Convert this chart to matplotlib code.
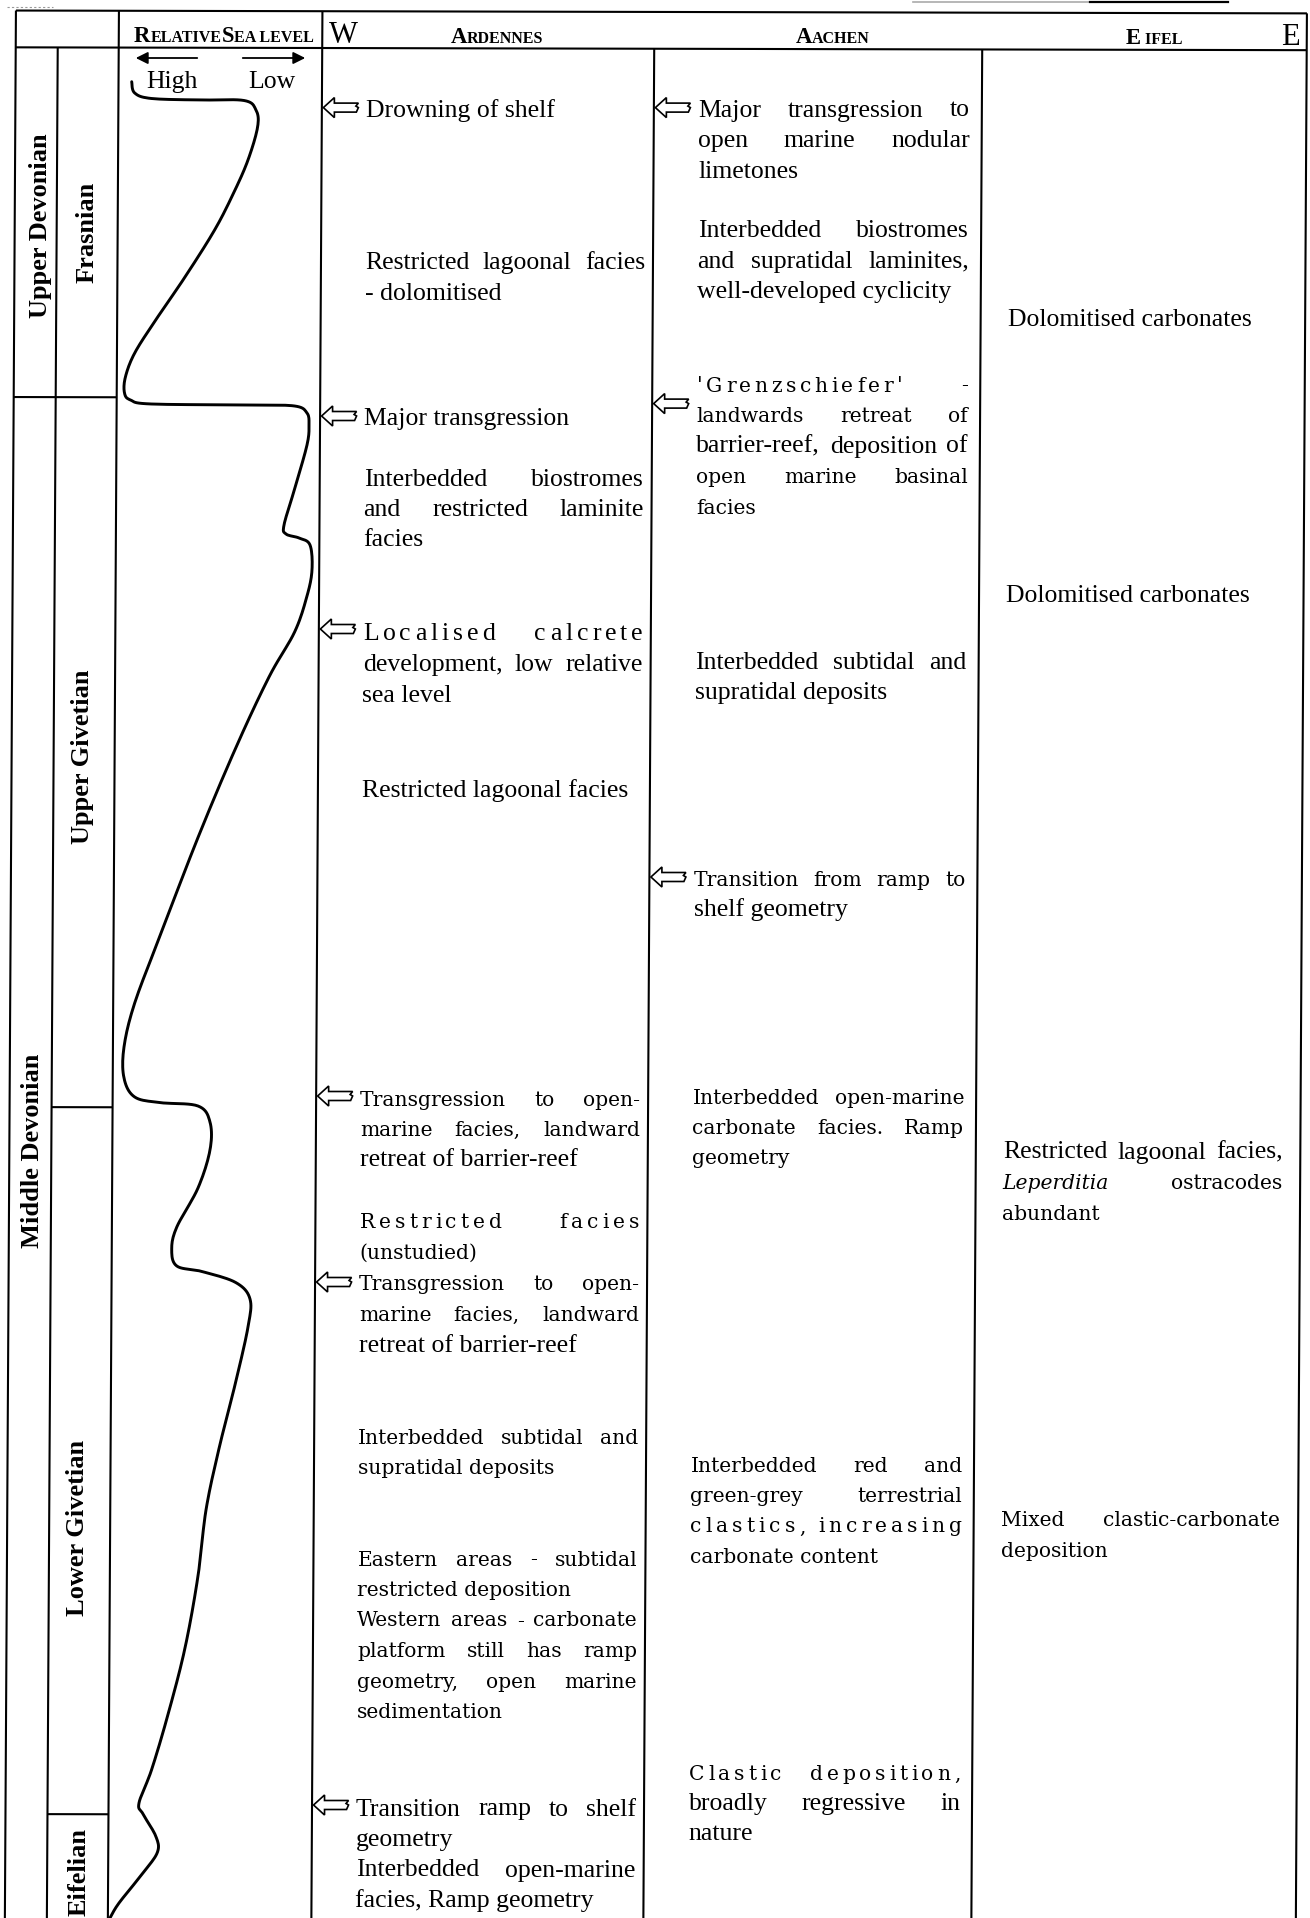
import numpy as np
import matplotlib
matplotlib.use("Agg")
import matplotlib.pyplot as plt
from matplotlib.font_manager import FontProperties
from matplotlib.patches import Polygon

W, H = 1310, 1918

# ---- relative sea-level curve (picture px: x left = high, y = depth) ----
sea_level_x = [131.7, 134.7, 151.5, 200, 244, 256, 257.6, 248, 233.6, 214.6, 185, 155.7,
               134.7, 125.4, 124.5, 130.5, 151.5, 250, 294.6, 307, 309, 307, 294.6, 284,
               286, 299, 310, 312, 307, 294.6, 269, 235.7, 198, 160, 134.7, 124, 124,
               134.7, 160, 198, 210, 210, 198, 176.8, 171.7, 176.8, 202, 235.7, 250, 248,
               235.7, 218.9, 206, 198, 185, 168, 151.5, 139, 143, 155.7, 157.5, 143, 119, 110]
sea_level_y = [81.7, 93, 98.5, 100, 100.5, 110, 127, 160, 193, 230, 277, 320, 353, 377,
               393, 400, 404, 405, 406, 413, 425, 445, 489, 525, 534, 538, 545, 570, 596,
               632, 677, 748, 837.5, 936, 1003, 1047, 1078, 1097, 1102.6, 1106, 1122, 1150,
               1188, 1227, 1249, 1266, 1271.5, 1282.5, 1299, 1327, 1382, 1449, 1510, 1576,
               1648, 1714.5, 1770, 1803, 1814, 1836, 1852, 1873, 1903, 1918]

# ---- stratigraphy labels (text, centre x, centre y) ----
series_labels = [("Upper Devonian", 41, 226), ("Middle Devonian", 33, 1151)]
stage_labels = [("Frasnian", 87, 232), ("Upper Givetian", 82, 757),
                ("Lower Givetian", 78, 1528), ("Eifelian", 79, 1872)]
stage_bounds = [1107, 1814]
series_bound = 397

# ---- column texts: (first line y, arrow y or None, lines) ----
# line = (text, face, mode, letter spacing) ; face t=times w=wide ; mode j=justify l=left
ardennes_blocks = [
    (108, 107.6, [("Drowning of shelf", "t", "l", 0)]),
    (260.5, None, [("Restricted lagoonal facies", "t", "j", 0), ("- dolomitised", "t", "l", 0)]),
    (416, 416, [("Major transgression", "t", "l", 0)]),
    (477, None, [("Interbedded biostromes", "t", "j", 0), ("and restricted laminite", "t", "j", 0),
                 ("facies", "t", "l", 0)]),
    (632, 629, [("Localised calcrete", "t", "j", 4), ("development, low relative", "t", "j", 0),
                ("sea level", "t", "l", 0)]),
    (788, None, [("Restricted lagoonal facies", "t", "l", 0)]),
    (1097, 1096, [("Transgression to open-", "w", "j", 0), ("marine facies, landward", "w", "j", 0),
                  ("retreat of barrier-reef", "t", "l", 0)]),
    (1219.5, None, [("Restricted facies", "w", "j", 4), ("(unstudied)", "w", "l", 0)]),
    (1282, 1282, [("Transgression to open-", "w", "j", 0), ("marine facies, landward", "w", "j", 0),
                  ("retreat of barrier-reef", "t", "l", 0)]),
    (1435, None, [("Interbedded subtidal and", "w", "j", 0), ("supratidal deposits", "w", "l", 0)]),
    (1557, None, [("Eastern areas - subtidal", "w", "j", 0), ("restricted deposition", "w", "l", 0),
                  ("Western areas - carbonate", "w", "j", 0), ("platform still has ramp", "w", "j", 0),
                  ("geometry, open marine", "w", "j", 0), ("sedimentation", "w", "l", 0)]),
    (1807, 1805, [("Transition ramp to shelf", "t", "j", 0), ("geometry", "t", "l", 0),
                  ("Interbedded open-marine", "t", "j", 0), ("facies, Ramp geometry", "t", "l", 0)]),
]
aachen_blocks = [
    (108, 107.6, [("Major transgression to", "t", "j", 0), ("open marine nodular", "t", "j", 0),
                  ("limetones", "t", "l", 0)]),
    (228.7, None, [("Interbedded biostromes", "t", "j", 0), ("and supratidal laminites,", "t", "j", 0),
                   ("well-developed cyclicity", "t", "l", 0)]),
    (383, 403.6, [("'Grenzschiefer' -", "w", "j", 3.6), ("landwards retreat of", "w", "j", 0),
                  ("barrier-reef, deposition of", "t", "j", 0), ("open marine basinal", "w", "j", 0),
                  ("facies", "w", "l", 0)]),
    (660.5, None, [("Interbedded subtidal and", "t", "j", 0), ("supratidal deposits", "t", "l", 0)]),
    (877, 877, [("Transition from ramp to", "w", "j", 0), ("shelf geometry", "t", "l", 0)]),
    (1095, None, [("Interbedded open-marine", "w", "j", 0), ("carbonate facies. Ramp", "w", "j", 0),
                  ("geometry", "w", "l", 0)]),
    (1463, None, [("Interbedded red and", "w", "j", 0), ("green-grey terrestrial", "w", "j", 0),
                  ("clastics, increasing", "w", "j", 4), ("carbonate content", "w", "l", 0)]),
    (1771, None, [("Clastic deposition,", "w", "j", 3.7), ("broadly regressive in", "t", "j", 0),
                  ("nature", "t", "l", 0)]),
]
eifel_blocks = [
    (317, None, [("Dolomitised carbonates", "t", "l", 0)]),
    (593, None, [("Dolomitised carbonates", "t", "l", 0)]),
    (1150, None, [("Restricted lagoonal facies,", "t", "j", 0), ("*Leperditia* ostracodes", "w", "j", 0),
                  ("abundant", "w", "l", 0)]),
    (1518, None, [("Mixed clastic-carbonate", "w", "j", 0), ("deposition", "w", "l", 0)]),
]

# ---- page geometry (the scan is slightly skewed) ----
SKEW_X, SKEW_Y = -0.0058, 0.0022
X_LEFT, X_COL12, X_RSL0, X_RSL1, X_ARD, X_AAC, X_RIGHT = 16.0, 58.0, 119.0, 322.5, 654.5, 982.5, 1307.0
Y_TOP, Y_HEAD = 10.5, 47.3
LINE_GAP = 30.5
BASE_OFF = 8.5

TIMES = FontProperties(family="Liberation Serif", size=18.5)
TIMES_I = FontProperties(family="Liberation Serif", style="italic", size=18.5)
TIMES_B = FontProperties(family="Liberation Serif", weight="bold", size=19)
WIDE = FontProperties(family="DejaVu Serif", size=14.6)
WIDE_I = FontProperties(family="DejaVu Serif", style="italic", size=14.6)
FACES = {"t": TIMES, "w": WIDE}

fig = plt.figure(figsize=(W / 100, H / 100), dpi=100)
ax = fig.add_axes([0, 0, 1, 1])
ax.set_xlim(0, W)
ax.set_ylim(H, 0)
ax.axis("off")
renderer = fig.canvas.get_renderer()


def vx(x0, y):
    return x0 + SKEW_X * y


def hy(y0, x):
    return y0 + SKEW_Y * x


def vline(x0, ya, yb, lw=1.5):
    ax.plot([vx(x0, ya), vx(x0, yb)], [ya, yb], color="black", lw=lw, solid_capstyle="butt")


def hline(y0, xa0, xb0, lw=1.5):
    ya, yb = hy(y0, xa0), hy(y0, xb0)
    ax.plot([vx(xa0, ya), vx(xb0, yb)], [ya, yb], color="black", lw=lw, solid_capstyle="butt")


_cache = {}


def tw(s, fp):
    key = (s, id(fp))
    if key not in _cache:
        t = ax.text(0, 0, s, fontproperties=fp)
        _cache[key] = t.get_window_extent(renderer).width
        t.remove()
    return _cache[key]


def adv(ch, fp):
    # advance width of one glyph, measured between two bars
    return tw("|" + ch + "|", fp) - tw("||", fp)


def word_info(word, face):
    fp = FACES[face]
    if word.startswith("*") and word.endswith("*"):
        word = word.strip("*")
        fp = WIDE_I if face == "w" else TIMES_I
    return word, fp


def word_width(word, fp, ls):
    if ls == 0:
        return tw(word, fp)
    return sum(adv(c, fp) for c in word[:-1]) + tw(word[-1], fp) + ls * (len(word) - 1)


def draw_word(x, y, word, fp, ls):
    if ls == 0:
        ax.text(x, y, word, fontproperties=fp, va="baseline", ha="left")
        return
    for ch in word:
        ax.text(x, y, ch, fontproperties=fp, va="baseline", ha="left")
        x += adv(ch, fp) + ls


def draw_line(xl, xr, y, text, face, mode, ls):
    words = [word_info(w, face) for w in text.split()]
    base = y + BASE_OFF
    if mode == "l" or len(words) == 1:
        if ls == 0 and "*" not in text:
            ax.text(xl, base, text, fontproperties=FACES[face], va="baseline", ha="left")
            return
        x = xl
        space = adv(" ", FACES[face])
        for w, fp in words:
            draw_word(x, base, w, fp, ls)
            x += word_width(w, fp, ls) + space
        return
    widths = [word_width(w, fp, ls) for w, fp in words]
    gap = (xr - xl - sum(widths)) / (len(words) - 1)
    x = xl
    for (w, fp), wd in zip(words, widths):
        draw_word(x, base, w, fp, ls)
        x += wd + gap


def draw_arrow(xtip, y):
    shape = np.array([(0, 0), (11, -10), (11, -4.5), (35, -4.5), (32.5, -1.5), (35, 0),
                      (33, 4.5), (11, 4.5), (11, 10)])
    shape[:, 0] += xtip
    shape[:, 1] += y
    ax.add_patch(Polygon(shape, closed=True, facecolor="white", edgecolor="black", lw=1.2, zorder=3))


def draw_column(blocks, x_l0, x_r0, m_l, m_r):
    for y0, arrow_y, lines in blocks:
        if arrow_y is not None:
            draw_arrow(vx(x_l0, arrow_y) + 1.5, arrow_y)
        for i, (txt, face, mode, ls) in enumerate(lines):
            y = y0 + i * LINE_GAP
            draw_line(vx(x_l0, y) + m_l, vx(x_r0, y) - m_r, y, txt, face, mode, ls)


def small_caps(xc, parts):
    fps = [FontProperties(family="Liberation Serif", weight="bold", size=s) for _, s in parts]
    widths = [adv(t, fp) if len(t) == 1 else tw(t, fp) for (t, _), fp in zip(parts, fps)]
    x = xc - sum(widths) / 2
    y = hy(41.5, xc)
    for (t, _), fp, wd in zip(parts, fps, widths):
        ax.text(x, y, t, fontproperties=fp, va="baseline", ha="left")
        x += wd


# ---- grid ----
vline(X_LEFT, hy(Y_TOP, X_LEFT), H)
vline(X_COL12, hy(Y_HEAD, X_COL12), H)
vline(X_RSL0, hy(Y_TOP, X_RSL0), H)
vline(X_RSL1, hy(Y_TOP, X_RSL1), H)
vline(X_ARD, hy(Y_HEAD, X_ARD), H)
vline(X_AAC, hy(Y_HEAD, X_AAC), H)
vline(X_RIGHT, hy(Y_TOP, X_RIGHT), H)
hline(Y_TOP, X_LEFT, X_RIGHT)
hline(Y_HEAD, X_LEFT, X_RIGHT)
hline(series_bound, X_LEFT, X_RSL0)
for yb in stage_bounds:
    hline(yb, X_COL12, X_RSL0)

# scan remnants above the table
ax.plot([7, 53], [7, 7], color="#999999", lw=0.8, ls=(0, (2, 2)))
ax.plot([913, 1090], [1.5, 1.5], color="#aaaaaa", lw=1.2)
ax.plot([1090, 1228], [1.5, 1.5], color="black", lw=1.6)

# ---- headers ----
small_caps(224, [("R", 16.3), ("ELATIVE", 11.5), ("S", 16.3), ("EA LEVEL", 11.5)])
small_caps(497, [("A", 16.3), ("RDENNES", 11.5)])
small_caps(833, [("A", 16.3), ("ACHEN", 11.5)])
small_caps(1154, [("E", 16.3), (" IFEL", 11.5)])
hdr = FontProperties(family="Liberation Serif", size=22)
ax.text(329, hy(41.8, 329), "W", fontproperties=hdr, va="baseline", ha="left")
ax.text(1300, hy(41.8, 1300), "E", fontproperties=hdr, va="baseline", ha="right")

ax.annotate("", xy=(133, 58), xytext=(200, 58),
            arrowprops=dict(arrowstyle="-|>", color="black", lw=1.3, mutation_scale=18))
ax.annotate("", xy=(308, 58), xytext=(240, 58),
            arrowprops=dict(arrowstyle="-|>", color="black", lw=1.3, mutation_scale=18))
ax.text(171.5, 88, "High", fontproperties=TIMES, ha="center", va="baseline")
ax.text(271.5, 88, "Low", fontproperties=TIMES, ha="center", va="baseline")

# ---- vertical stratigraphic labels ----
for txt, x, y in series_labels + stage_labels:
    ax.text(x, y, txt, fontproperties=TIMES_B, rotation=90, ha="center", va="center")


# ---- sea-level curve (smooth Catmull-Rom through the read points) ----
def catmull_rom(xs, ys, n=10):
    p = np.column_stack([xs, ys])
    p = np.vstack([p[0], p, p[-1]])
    out = []
    t = np.linspace(0, 1, n, endpoint=False)[:, None]
    for i in range(1, len(p) - 2):
        p0, p1, p2, p3 = p[i - 1], p[i], p[i + 1], p[i + 2]
        seg = 0.5 * ((2 * p1) + (-p0 + p2) * t + (2 * p0 - 5 * p1 + 4 * p2 - p3) * t ** 2
                     + (-p0 + 3 * p1 - 3 * p2 + p3) * t ** 3)
        out.append(seg)
    out.append(p[-2][None, :])
    return np.vstack(out)


curve = catmull_rom(sea_level_x, sea_level_y)
ax.plot(curve[:, 0], curve[:, 1], color="black", lw=2.1, solid_capstyle="round", solid_joinstyle="round")

# ---- facies text ----
draw_column(ardennes_blocks, X_RSL1, X_ARD, 44, 8)
draw_column(aachen_blocks, X_ARD, X_AAC, 44.5, 12)
draw_column(eifel_blocks, X_AAC, X_RIGHT, 27, 18)

fig.savefig("out.png", dpi=100, facecolor="white")
